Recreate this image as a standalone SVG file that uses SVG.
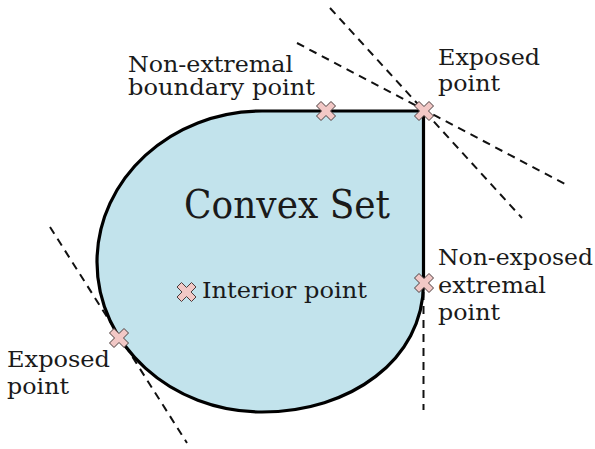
<svg xmlns="http://www.w3.org/2000/svg" width="595" height="449" viewBox="0 0 595 449">
<defs>
<style>
text{font-family:'DejaVu Serif',serif;fill:#1a1a1a}
.lbl{font-size:23px}
.sm{font-size:22px}
.big{font-size:39px}
.dash{stroke:#111;stroke-width:2;stroke-dasharray:8,6;fill:none}
.mk{fill:#f2c8c6;stroke:#4a3c3c;stroke-width:1;stroke-linejoin:round}
</style>
<path id="x" d="M-9.5,-5 L-5,-9.5 L0,-4.5 L5,-9.5 L9.5,-5 L4.5,0 L9.5,5 L5,9.5 L0,4.5 L-5,9.5 L-9.5,5 L-4.5,0 Z"/>
</defs>
<rect width="595" height="449" fill="#fff"/>
<g id="connectors">
<line class="dash" x1="330" y1="8" x2="522" y2="218"/>
<line class="dash" x1="297" y1="43" x2="567" y2="185"/>
<line class="dash" x1="423.5" y1="292" x2="423.5" y2="410"/>
<line class="dash" x1="50" y1="227" x2="187" y2="443"/>
</g>
<g id="convex-set">
<path d="M262,111 L423.5,111 L423.5,283 C423.5,360 350,412 262,412 C171,412 97,345 97,262 C97,179 171,111 262,111 Z" fill="#c2e3ec" stroke="#000" stroke-width="3.2" stroke-linejoin="miter"/>
<text class="big" x="184" y="218" textLength="206" lengthAdjust="spacingAndGlyphs">Convex Set</text>
</g>
<g id="non-extremal-boundary-point">
<use href="#x" class="mk" x="326" y="111"/>
<text class="sm" x="128" y="72" textLength="165" lengthAdjust="spacingAndGlyphs">Non-extremal</text>
<text class="sm" x="128" y="95" textLength="187" lengthAdjust="spacingAndGlyphs">boundary point</text>
</g>
<g id="exposed-point-top">
<use href="#x" class="mk" x="424" y="111"/>
<text class="lbl" x="438" y="65" textLength="102" lengthAdjust="spacingAndGlyphs">Exposed</text>
<text class="lbl" x="438" y="91" textLength="62" lengthAdjust="spacingAndGlyphs">point</text>
</g>
<g id="non-exposed-extremal-point">
<use href="#x" class="mk" x="424" y="283"/>
<text class="lbl" x="438" y="265" textLength="155" lengthAdjust="spacingAndGlyphs">Non-exposed</text>
<text class="lbl" x="438" y="293" textLength="108" lengthAdjust="spacingAndGlyphs">extremal</text>
<text class="lbl" x="438" y="320" textLength="62" lengthAdjust="spacingAndGlyphs">point</text>
</g>
<g id="interior-point">
<use href="#x" class="mk" x="186.5" y="292"/>
<text class="lbl" x="202" y="298" textLength="165" lengthAdjust="spacingAndGlyphs">Interior point</text>
</g>
<g id="exposed-point-left">
<use href="#x" class="mk" x="119" y="338"/>
<text class="lbl" x="7" y="367" textLength="103" lengthAdjust="spacingAndGlyphs">Exposed</text>
<text class="lbl" x="7" y="394" textLength="62" lengthAdjust="spacingAndGlyphs">point</text>
</g>
</svg>
